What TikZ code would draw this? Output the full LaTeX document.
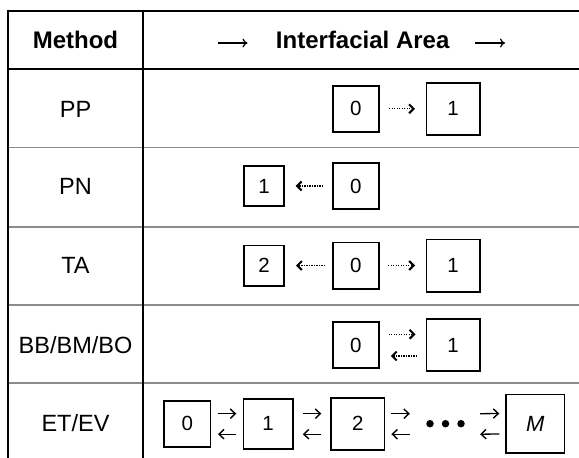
\documentclass[tikz,border=0pt]{standalone}
\usepackage{fontspec}
\setmainfont{Liberation Sans}
\usetikzlibrary{arrows.meta}
\begin{document}
\begin{tikzpicture}[x=1pt,y=-1pt,
  rule/.style={line width=2.2pt, black},
  rowsep/.style={line width=1.3pt, black!45},
  hd/.style={font=\fontsize{24}{28}\selectfont\bfseries, anchor=base, inner sep=0pt},
  lbl/.style={font=\fontsize{23.5}{28}\selectfont, anchor=base, inner sep=0pt},
  cell/.style={draw, line width=1.8pt, inner sep=0pt, font=\fontsize{20.5}{24}\selectfont},
  small/.style={cell, minimum width=40.2pt, minimum height=40.2pt},
  mid/.style={cell, minimum width=46.2pt, minimum height=46.2pt},
  large/.style={cell, minimum width=53.2pt, minimum height=52.2pt},
  dotarrow/.style={line width=1.1pt, dash pattern=on 1.1pt off 1.4pt,
    -{Straight Barb[length=4.5pt,width=9pt,line width=2pt]}},
  etarrow/.style={line width=1.3pt, -{Straight Barb[length=5pt,width=9.5pt,line width=1.4pt]}},
  hdarrow/.style={line width=1.2pt, -{Computer Modern Rightarrow[length=5pt,width=9pt,line width=1.2pt]}},
  dot/.style={circle, fill, inner sep=0pt, minimum size=7.5pt}
]
\useasboundingbox (0,0) rectangle (579,458);

% table rules: thin grey row separators first, black frame on top
\draw[rowsep] (8,147.3) -- (579,147.3);
\draw[rowsep] (8,227) -- (579,227);
\draw[rowsep] (8,305) -- (579,305);
\draw[rowsep] (8,383) -- (579,383);
\draw[rule] (6.9,10.7) -- (579,10.7);
\draw[rule] (8,9.6) -- (8,458);
\draw[rule] (143.3,9.6) -- (143.3,458);
\draw[rule] (8,69) -- (579,69);

% header
\node[hd] (mh) at (75.5,48.3) {Method};
\node[hd] (ia) at (362.7,48.3) {Interfacial Area};
\coordinate (a1s) at (217.5,43);
\coordinate (a1e) at (247.5,43);
\coordinate (a2s) at (475,43);
\coordinate (a2e) at (505,43);
\draw[hdarrow] (a1s) -- (a1e);
\draw[hdarrow] (a2s) -- (a2e);

% method names
\node[lbl] (lpp) at (75.5,117.2) {PP};
\node[lbl] (lpn) at (75.5,194.4) {PN};
\node[lbl] (lta) at (75.5,273.9) {TA};
\node[lbl] (lbb) at (75.5,353.4) {BB/BM/BO};
\node[lbl] (let) at (75.5,431.7) {ET/EV};

% PP
\node[mid] (pp0) at (355.8,108.8) {0};
\node[large] (pp1) at (453,108.8) {1};
\draw[dotarrow] ([xshift=9.2pt]pp0.east) -- ([xshift=-10.5pt]pp1.west);

% PN
\node[small] (pn1) at (264,186) {1};
\node[mid] (pn0) at (355.8,186) {0};
\draw[dotarrow] ([xshift=-8.8pt]pn0.west) -- ([xshift=10.7pt]pn1.east);

% TA
\node[small] (ta2) at (264,265.5) {2};
\node[mid] (ta0) at (355.8,265.5) {0};
\node[large] (ta1) at (453,265.5) {1};
\draw[dotarrow] ([xshift=-6.8pt]ta0.west) -- ([xshift=11pt]ta2.east);
\draw[dotarrow] ([xshift=8.5pt]ta0.east) -- ([xshift=-10.5pt]ta1.west);

% BB/BM/BO
\node[mid] (bb0) at (355.8,345) {0};
\node[large] (bb1) at (453,345) {1};
\draw[dotarrow] ([xshift=9pt,yshift=10.7pt]bb0.east) -- ([xshift=-10pt,yshift=10.7pt]bb1.west);
\draw[dotarrow] ([xshift=-8.5pt,yshift=-11pt]bb1.west) -- ([xshift=11pt,yshift=-11pt]bb0.east);

% ET/EV
\node[mid] (et0) at (187.4,423.7) {0};
\node[cell, minimum width=49.2pt, minimum height=50.2pt] (et1) at (268,423.7) {1};
\node[cell, minimum width=53.2pt, minimum height=52.2pt] (et2) at (357.9,423.7) {2};
\node[dot] (d1) at (430,423.7) {};
\node[dot] (d2) at (445.5,423.7) {};
\node[dot] (d3) at (461,423.7) {};
\node[cell, minimum width=58.2pt, minimum height=58.2pt, font=\fontsize{22}{26}\selectfont\itshape] (etM) at (535.4,423.5) {M};
\draw[etarrow] ([xshift=6.6pt,yshift=10pt]et0.east) -- ([xshift=-6.2pt,yshift=10pt]et1.west);
\draw[etarrow] ([xshift=-6.2pt,yshift=-10.5pt]et1.west) -- ([xshift=6.6pt,yshift=-10.5pt]et0.east);
\draw[etarrow] ([xshift=9.3pt,yshift=10pt]et1.east) -- ([xshift=-9.1pt,yshift=10pt]et2.west);
\draw[etarrow] ([xshift=-9.1pt,yshift=-10.5pt]et2.west) -- ([xshift=9.3pt,yshift=-10.5pt]et1.east);
\draw[etarrow] ([xshift=6pt,yshift=10pt]et2.east) -- ([xshift=-16.2pt,yshift=10pt]d1.west);
\draw[etarrow] ([xshift=-16.2pt,yshift=-10.5pt]d1.west) -- ([xshift=6pt,yshift=-10.5pt]et2.east);
\draw[etarrow] ([xshift=15.2pt,yshift=10pt]d3.east) -- ([xshift=-6.1pt,yshift=10pt]etM.west);
\draw[etarrow] ([xshift=-6.1pt,yshift=-10.5pt]etM.west) -- ([xshift=15.2pt,yshift=-10.5pt]d3.east);
\end{tikzpicture}
\end{document}
